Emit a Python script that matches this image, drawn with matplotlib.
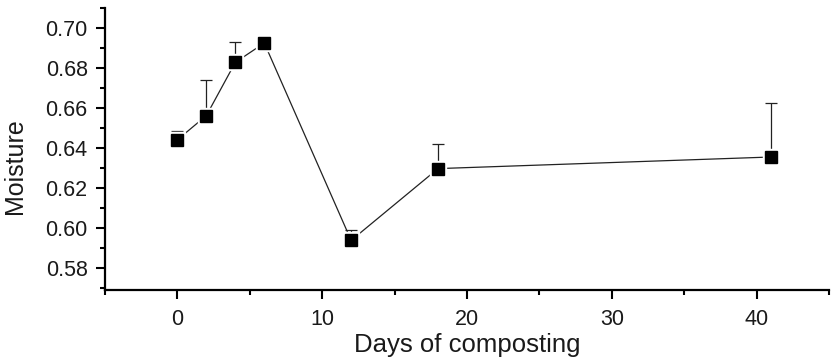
import matplotlib
matplotlib.use("Agg")
import matplotlib.pyplot as plt
from matplotlib.ticker import MultipleLocator, FormatStrFormatter

days = [0, 2, 4, 6, 12, 18, 41]
moisture = [0.6441, 0.6562, 0.6828, 0.6925, 0.5938, 0.6297, 0.6355]
err_upper = [0.0045, 0.0180, 0.0100, 0.0, 0.0054, 0.0124, 0.0272]

plt.rcParams['font.family'] = ['Liberation Sans', 'DejaVu Sans']

fig = plt.figure(figsize=(8.36, 3.63), dpi=100)
ax = fig.add_axes([105/836, 1-290/363, (829-105)/836, (290-8)/363])

ax.plot(days, moisture, color='#222222', lw=0.9, zorder=1)
ax.errorbar(days, moisture, yerr=[[0]*len(err_upper), err_upper], fmt='none',
            ecolor='#222222', elinewidth=0.9, capsize=4, capthick=0.9, zorder=2)
ax.plot(days, moisture, ls='none', marker='s', ms=11, mfc='white', mec='white', zorder=3)
ax.plot(days, moisture, ls='none', marker='s', ms=8.3, mfc='black', mec='black', zorder=4)

ax.set_xlim(-5, 45)
ax.set_ylim(0.569, 0.710)
ax.xaxis.set_major_locator(MultipleLocator(10))
ax.xaxis.set_minor_locator(MultipleLocator(5))
ax.yaxis.set_major_locator(MultipleLocator(0.02))
ax.yaxis.set_minor_locator(MultipleLocator(0.01))
ax.yaxis.set_major_formatter(FormatStrFormatter('%.2f'))

for s in ['top', 'right']:
    ax.spines[s].set_visible(False)
for s in ['left', 'bottom']:
    ax.spines[s].set_linewidth(1.6)

ax.tick_params(which='major', length=6.5, width=1.5, labelsize=15.5, color='black',
               labelcolor='#1a1a1a')
ax.tick_params(axis='x', which='major', pad=7)
ax.tick_params(axis='y', which='major', pad=6)
ax.tick_params(which='minor', length=3.8, width=1.5, color='black')

ax.set_xlabel('Days of composting', fontsize=18.5, labelpad=2, color='#1a1a1a')
ax.set_ylabel('Moisture', fontsize=18, color='#1a1a1a')
ax.yaxis.set_label_coords((27-105)/724, (290-166)/282)

fig.savefig('out.png', dpi=100)
